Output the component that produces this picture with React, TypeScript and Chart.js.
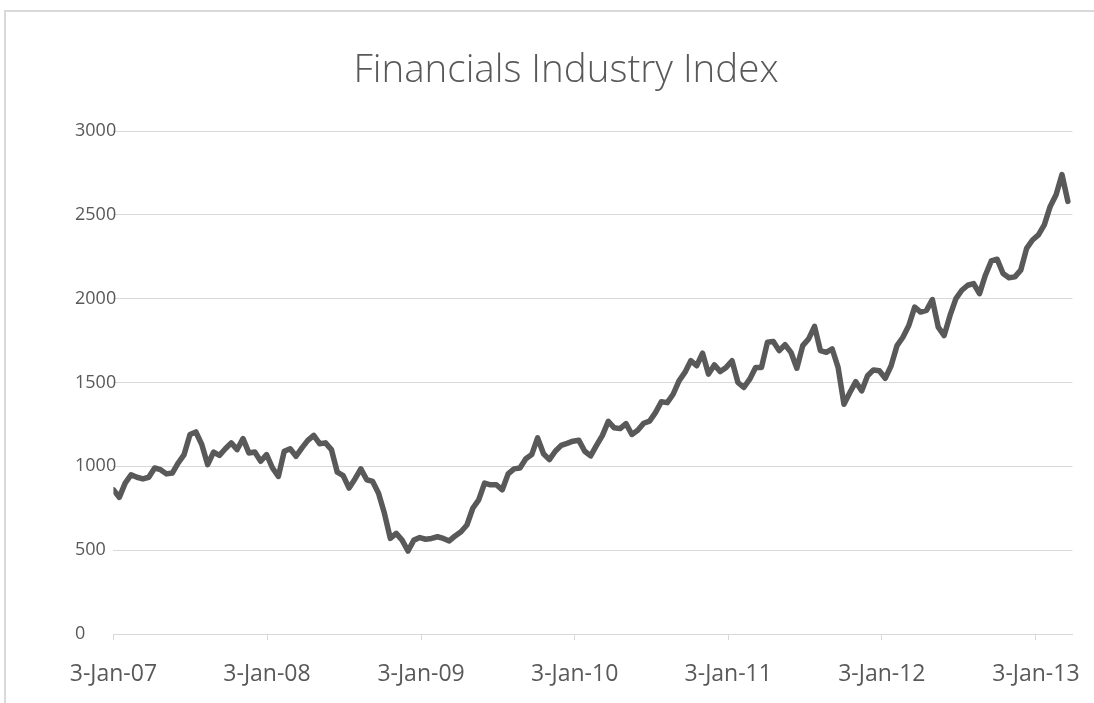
import React, { useEffect, useRef } from "react";
import { Chart, registerables } from "chart.js";

Chart.register(...registerables);

const TITLE = "Financials Industry Index";
// sampling interval of the series, in days from 3-Jan-07
const STEP_DAYS = 14;
const indexValues: number[] = [
  860, 815, 900, 950, 935, 925, 935, 990, 980, 955,
  960, 1020, 1070, 1190, 1205, 1130, 1010, 1085, 1065, 1105,
  1140, 1100, 1165, 1080, 1085, 1030, 1070, 990, 940, 1090,
  1105, 1060, 1110, 1155, 1185, 1135, 1140, 1100, 965, 945,
  870, 925, 985, 920, 910, 840, 720, 570, 600, 560,
  495, 560, 575, 565, 570, 580, 570, 555, 585, 610,
  650, 750, 800, 900, 890, 890, 860, 955, 985, 990,
  1045, 1070, 1170, 1075, 1040, 1090, 1125, 1137, 1150, 1155,
  1090, 1062, 1125, 1185, 1268, 1230, 1225, 1255, 1190, 1215,
  1257, 1270, 1320, 1385, 1380, 1430, 1510, 1560, 1630, 1600,
  1675, 1550, 1605, 1565, 1590, 1630, 1500, 1470, 1520, 1590,
  1590, 1740, 1745, 1690, 1725, 1680, 1585, 1720, 1760, 1835,
  1690, 1680, 1700, 1590, 1370, 1440, 1505, 1450, 1540, 1575,
  1570, 1525, 1600, 1720, 1770, 1840, 1950, 1920, 1930, 1995,
  1830, 1780, 1900, 2000, 2050, 2080, 2090, 2030, 2140, 2225,
  2235, 2150, 2125, 2130, 2170, 2300, 2350, 2380, 2440, 2550,
  2620, 2740, 2580,
];
const tickDays: number[] = [0, 365, 731, 1096, 1461, 1826, 2192];
const tickLabels: string[] = [
  "3-Jan-07", "3-Jan-08", "3-Jan-09", "3-Jan-10", "3-Jan-11", "3-Jan-12", "3-Jan-13",
];
const X_MAX_DAYS = 2279;
const Y_MIN = 0;
const Y_MAX = 3000;
const Y_STEP = 500;

const TEXT = "#595959";
const GRID = "#d9d9d9";

export default function App() {
  const ref = useRef<HTMLCanvasElement | null>(null);

  useEffect(() => {
    if (!ref.current) return;
    const points = indexValues.map((v, i) => ({ x: i * STEP_DAYS, y: v }));
    const titlePlugin = {
      id: "customTitle",
      afterDraw(chart: any) {
        const ctx = chart.ctx;
        ctx.save();
        ctx.font = '300 38.5px "Open Sans"';
        ctx.fillStyle = TEXT;
        ctx.textAlign = "center";
        ctx.textBaseline = "alphabetic";
        ctx.fillText(TITLE, 566, 82);
        ctx.restore();
      },
    };
    const chart = new Chart(ref.current, {
      type: "line",
      data: {
        datasets: [
          {
            data: points,
            borderColor: "#595959",
            borderWidth: 5.5,
            pointRadius: 0,
            tension: 0,
            borderJoinStyle: "round",
            borderCapStyle: "round",
            fill: false,
          },
        ],
      },
      options: {
        animation: false,
        responsive: false,
        parsing: false as any,
        layout: { padding: { top: 131, left: 75, right: 21.5, bottom: 0 } },
        plugins: {
          legend: { display: false },
          title: { display: false },
          tooltip: { enabled: false },
        },
        scales: {
          x: {
            type: "linear",
            min: 0,
            max: X_MAX_DAYS,
            afterBuildTicks: (axis: any) => {
              axis.ticks = tickDays.map((v) => ({ value: v }));
            },
            afterFit: (scale: any) => {
              scale.height = 69;
              scale.paddingLeft = 0;
              scale.paddingRight = 0;
            },
            ticks: {
              autoSkip: false,
              maxRotation: 0,
              minRotation: 0,
              padding: 21,
              color: TEXT,
              font: { family: '"Open Sans"', size: 23 },
              callback: (_v: any, i: number) => tickLabels[i],
            },
            grid: {
              drawOnChartArea: false,
              drawTicks: true,
              tickLength: 6,
              color: GRID,
            },
            border: { display: true, color: GRID, width: 1 },
          },
          y: {
            min: Y_MIN,
            max: Y_MAX,
            afterFit: (scale: any) => {
              scale.width = 38.4;
            },
            ticks: {
              stepSize: Y_STEP,
              mirror: true,
              crossAlign: "near",
              padding: -38.4,
              color: TEXT,
              font: { family: '"Open Sans"', size: 18 },
              callback: (v: any) => String(v),
            },
            grid: { color: GRID, drawTicks: false, lineWidth: 1 },
            border: { display: false },
          },
        },
      },
      plugins: [titlePlugin],
    } as any);
    return () => chart.destroy();
  }, []);

  return (
    <div style={{ position: "absolute", left: 0, top: 0, width: 1094, height: 703, background: "#fff", overflow: "hidden" }}>
      <div
        style={{
          position: "absolute",
          left: 4,
          top: 10,
          width: 1200,
          height: 800,
          border: "2px solid #d9d9d9",
          boxSizing: "border-box",
        }}
      />
      <canvas ref={ref} width={1094} height={703} style={{ position: "absolute", left: 0, top: 0 }} />
    </div>
  );
}
